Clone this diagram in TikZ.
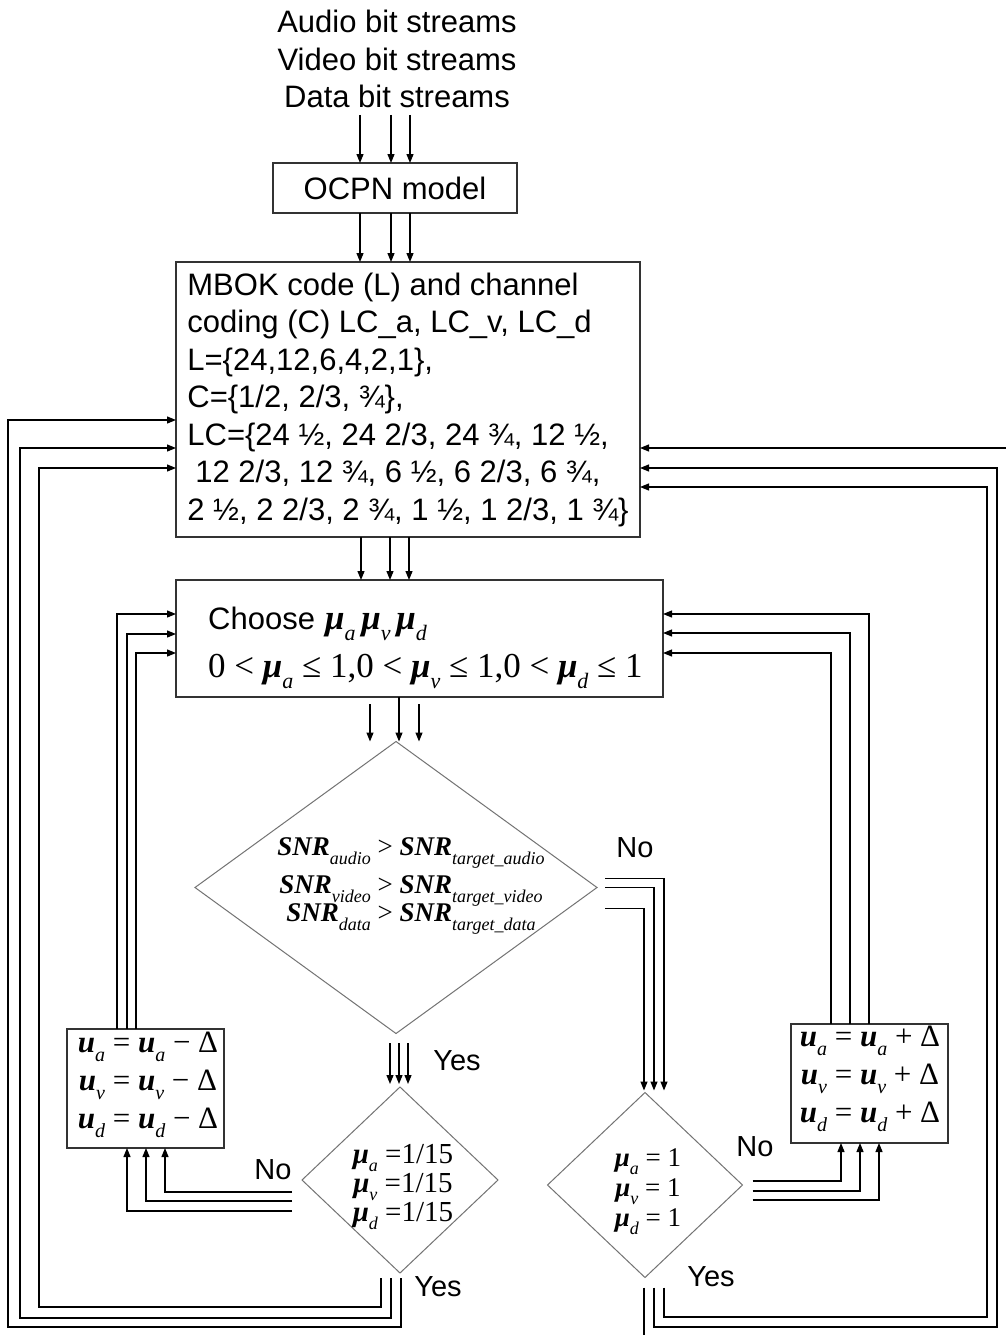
\documentclass[tikz,border=0pt]{standalone}
\usepackage{fontspec}
\setmainfont{Liberation Sans}
\newfontfamily\tms{Liberation Serif}
\usetikzlibrary{arrows.meta,shapes.geometric,calc}
\newcommand\fs[1]{\fontsize{#1}{#1}\selectfont}
\newcommand\sub[2]{\raisebox{-0.3em}{\fontsize{#1}{#1}\selectfont\normalfont\tms\itshape #2}}
\newcommand\mub{{\bfseries\itshape μ}}
\newcommand\ub{{\bfseries\itshape u}}
\newcommand\snr{{\bfseries\itshape SNR}}
\begin{document}
\begin{tikzpicture}[x=1pt,y=-1pt,
  box/.style={draw=black!80, line width=1.3pt, inner sep=0pt, outer sep=0pt},
  dia/.style={diamond, draw=black!55, line width=1pt, inner sep=0pt, outer sep=0pt},
  arr/.style={line width=1.2pt, -{Triangle[length=9pt,width=7pt]}},
  ln/.style={line width=1.2pt},
  lbl/.style={font=\fs{29}, inner sep=0pt}]
\useasboundingbox (0,0) rectangle (1005,1335);
\fill[white] (0,0) rectangle (1005,1335);

% ---------- nodes ----------
\node[font=\fontsize{31}{37.5}\selectfont, align=center, inner sep=0pt] (title) at (397,59)
  {Audio bit streams\\Video bit streams\\Data bit streams};
\node[box, minimum width=244, minimum height=50, font=\fs{31}] (ocpn) at (395,188) {OCPN model};
\node[box, minimum width=464, minimum height=275, align=left,
      font=\fontsize{31}{37.5}\selectfont] (mbok) at (408,399.5)
  {MBOK code (L) and channel\\
   coding (C) LC\_a, LC\_v, LC\_d\\
   L=\{24,12,6,4,2,1\},\\
   C=\{1/2, 2/3, ¾\},\\
   LC=\{24 ½, 24 2/3, 24 ¾, 12 ½,\\
   \hspace*{8pt}12 2/3, 12 ¾, 6 ½, 6 2/3, 6 ¾,\\
   2 ½, 2 2/3, 2 ¾, 1 ½, 1 2/3, 1 ¾\}};
\node[box, minimum width=487, minimum height=117] (choose) at (419.5,638.5) {};
\node[anchor=west, inner sep=0pt, align=left, font=\fontsize{31}{48}\selectfont] (choosetxt) at (208,648)
  {Choose\hspace{10pt}{\tms\fs{35}\mub\sub{22}{a}\,\mub\sub{22}{v}\,\mub\sub{22}{d}}\\
   {\tms\fs{35}0 < \mub\sub{22}{a} ≤ 1,0 < \mub\sub{22}{v} ≤ 1,0 < \mub\sub{22}{d} ≤ 1}};

\node[dia, minimum width=402, minimum height=292] (main) at (396,887.5) {};
\node[align=center, inner sep=0pt, font=\tms\fontsize{27}{35}\selectfont] (snr) at (411,886)
  {\snr\sub{18}{audio} > \snr\sub{18}{target\_audio}\\[3pt]
   \snr\sub{18}{video} > \snr\sub{18}{target\_video}\\[-7pt]
   \snr\sub{18}{data} > \snr\sub{18}{target\_data}};

\node[dia, minimum width=196, minimum height=186] (ld) at (400,1180) {};
\node[align=center, inner sep=0pt, font=\tms\fontsize{29}{29}\selectfont] (ldtxt) at (403,1187)
  {\mub\sub{18}{a} =1/15\\ \mub\sub{18}{v} =1/15\\ \mub\sub{18}{d} =1/15};

\node[dia, minimum width=195, minimum height=185] (rd) at (645,1185) {};
\node[align=center, inner sep=0pt, font=\tms\fontsize{27}{30}\selectfont] (rdtxt) at (648,1192)
  {\mub\sub{18}{a} = 1\\ \mub\sub{18}{v} = 1\\ \mub\sub{18}{d} = 1};

\node[box, minimum width=157, minimum height=119] (lbox) at (145.5,1088.5) {};
\node[align=center, inner sep=0pt, font=\tms\fontsize{31}{38}\selectfont] (lboxtxt) at (148,1085)
  {\ub\sub{20}{a} = \ub\sub{20}{a} − Δ\\ \ub\sub{20}{v} = \ub\sub{20}{v} − Δ\\ \ub\sub{20}{d} = \ub\sub{20}{d} − Δ};

\node[box, minimum width=157, minimum height=119] (rbox) at (869.5,1083.5) {};
\node[align=center, inner sep=0pt, font=\tms\fontsize{31}{38}\selectfont] (rboxtxt) at (870,1079)
  {\ub\sub{20}{a} = \ub\sub{20}{a} + Δ\\ \ub\sub{20}{v} = \ub\sub{20}{v} + Δ\\ \ub\sub{20}{d} = \ub\sub{20}{d} + Δ};

\node[lbl] (nomain) at (635,848) {No};
\node[lbl] (yesmain) at (457,1061) {Yes};
\node[lbl] (noleft) at (273,1170) {No};
\node[lbl] (yesleft) at (438,1287) {Yes};
\node[lbl] (noright) at (755,1147) {No};
\node[lbl] (yesright) at (711,1277) {Yes};

% ---------- free ends ----------
\coordinate (in1) at (360,115);
\coordinate (in2) at (391,115);
\coordinate (in3) at (410,115);
\coordinate (c1) at (370,704);
\coordinate (c3) at (419,704);
\coordinate (y1) at (390,1043);
\coordinate (y2) at (399,1043);
\coordinate (y3) at (408,1043);
\coordinate (offb) at (644,1345);
\coordinate (offr) at (1015,448);

% ---------- connectors ----------
\foreach \p in {in1,in2,in3} \draw[arr] (\p) -- (ocpn.north -| \p);
\foreach \x in {360,391,410} \draw[arr] (ocpn.south -| \x,0) -- (mbok.north -| \x,0);
\foreach \x in {361,390,409} \draw[arr] (mbok.south -| \x,0) -- (choose.north -| \x,0);
\draw[arr] (c1) -- (main.north -| c1);
\draw[arr] (choose.south -| 399,0) -- (main.north -| 399,0);
\draw[arr] (c3) -- (main.north -| c3);

% Yes from main decision
\foreach \p in {y1,y2,y3} \draw[arr] (\p) -- ($(ld.north -| \p)+(0,-3)$);

% No from main decision
\draw[arr] ($(main.east)+(8,-9)$) -| ($(rd.north -| 664,0)+(0,-2)$);
\draw[arr] ($(main.east)+(8,0)$) -| ($(rd.north -| 654,0)+(0,-2)$);
\draw[arr] ($(main.east)+(8,21)$) -| ($(rd.north -| 644,0)+(0,-2)$);

% right decision: No
\draw[arr] ($(rd.east)+(10,-4)$) -| (rbox.south -| 841,0);
\draw[arr] ($(rd.east)+(10,6)$) -| (rbox.south -| 860,0);
\draw[arr] ($(rd.east)+(10,15)$) -| (rbox.south -| 879,0);

% right box back to choose
\draw[arr] (rbox.north -| 831,0) |- (choose.east |- 0,653);
\draw[arr] (rbox.north -| 850,0) |- (choose.east |- 0,633);
\draw[arr] (rbox.north -| 869,0) |- (choose.east |- 0,614);

% right decision: Yes
\draw[ln] ($(rd.south)+(-1,10)$) -- (offb);
\draw[arr] ($(rd.south)+(9,10)$) |- (997,1327) |- (mbok.east |- 0,468);
\draw[arr] ($(rd.south)+(19,10)$) |- (987,1317) |- (mbok.east |- 0,487);
\draw[arr] (offr) -- (mbok.east |- offr);

% left decision: No
\draw[arr] ($(ld.west)+(-10,12)$) -| (lbox.south -| 165,0);
\draw[arr] ($(ld.west)+(-10,21)$) -| (lbox.south -| 146,0);
\draw[arr] ($(ld.west)+(-10,31)$) -| (lbox.south -| 127,0);

% left box back to choose
\draw[arr] (lbox.north -| 117,0) |- (choose.west |- 0,614);
\draw[arr] (lbox.north -| 127,0) |- (choose.west |- 0,634);
\draw[arr] (lbox.north -| 136,0) |- (choose.west |- 0,653);

% left decision: Yes
\draw[arr] ($(ld.south)+(-19,5)$) |- (39,1307) |- (mbok.west |- 0,468);
\draw[arr] ($(ld.south)+(-9,5)$) |- (20,1318) |- (mbok.west |- 0,448);
\draw[arr] ($(ld.south)+(1,5)$) |- (8,1327) |- (mbok.west |- 0,420);
\end{tikzpicture}
\end{document}
